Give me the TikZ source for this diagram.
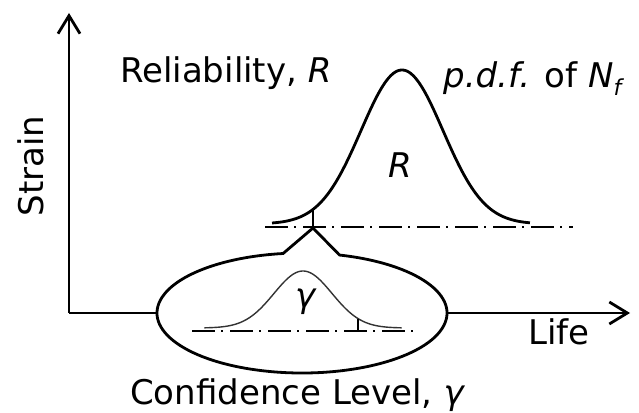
\documentclass[tikz,border=0pt]{standalone}
\usepackage{fontspec}
\setmainfont{DejaVu Sans}
\usetikzlibrary{arrows.meta,calc}
\tikzset{
  axisline/.style={line width=2.8pt,-{Straight Barb[length=18pt,width=22pt,line width=2.8pt]}},
  thickline/.style={line width=2.8pt},
  dashdot/.style={line width=2.3pt,dash pattern=on 23pt off 6pt on 2pt off 7pt},
  ticklines/.style={line width=2.3pt},
  smallcurve/.style={line width=1.4pt,black!80},
  lbl/.style={inner sep=0pt,font=\fontsize{34}{40}\selectfont}
}
\begin{document}
\begin{tikzpicture}[x=1pt,y=1pt]
\useasboundingbox (0,0) rectangle (639,412);
% axes
\coordinate (O) at (69,99);
\coordinate (ytip) at (69,399);
\coordinate (xtip) at (630,99);
\draw[axisline] (O) -- (ytip);
\draw[axisline] (O) -- (xtip);
% ellipse with notch
\coordinate (ec) at (302,99);
\coordinate (apex) at (313,184);
\draw[thickline,fill=white,line join=miter] (apex) -- ($(ec)+(75:145 and 60)$)
  arc[start angle=75,end angle=-262.5,x radius=145,y radius=60] -- cycle;
% upper dash-dot line and pdf
\coordinate (ul1) at (265,185);
\coordinate (ul2) at (573,185);
\draw[dashdot] (ul1) -- (ul2);
\draw[thickline] plot[domain=-3.17:3.12,samples=120,smooth] ({402+41*\x},{188+154*exp(-\x*\x/2)});
\coordinate (utop) at (313,{188+154*exp(-((313-402)/41)^2/2)});
\coordinate (ubot) at (313,185);
\draw[ticklines] (ubot) -- (utop);
% lower dash-dot line and small pdf
\coordinate (ll1) at (192,81);
\coordinate (ll2) at (415,81);
\draw[dashdot] (ll1) -- (ll2);
\draw[smallcurve] plot[domain=-3.4:3.4,samples=100,smooth] ({303+29*\x},{84+57*exp(-\x*\x/2)});
\coordinate (ltop) at (358,{84+57*exp(-((358-303)/29)^2/2)});
\coordinate (lbot) at (358,81);
\draw[ticklines] (lbot) -- (ltop);
% labels
\node[lbl,anchor=base west] (rel) at (120,329) {Reliability, \textit{R}};
\node[lbl,anchor=base west] (pdf) at (443,324) {\textit{p.d.f.} of \textit{N}{\fontsize{22}{24}\selectfont\raisebox{-8pt}{\textit{f}}}};
\node[lbl,anchor=base,rotate=90] (strain) at (43,246) {Strain};
\node[lbl,anchor=base west] (life) at (528,67) {Life};
\node[lbl,anchor=base west] (conf) at (130,8) {Confidence Level, \textit{γ}};
\node[lbl,anchor=base] (rin) at (400,234) {\textit{R}};
\node[lbl,anchor=base] (gin) at (306,104) {\textit{γ}};
\end{tikzpicture}
\end{document}
